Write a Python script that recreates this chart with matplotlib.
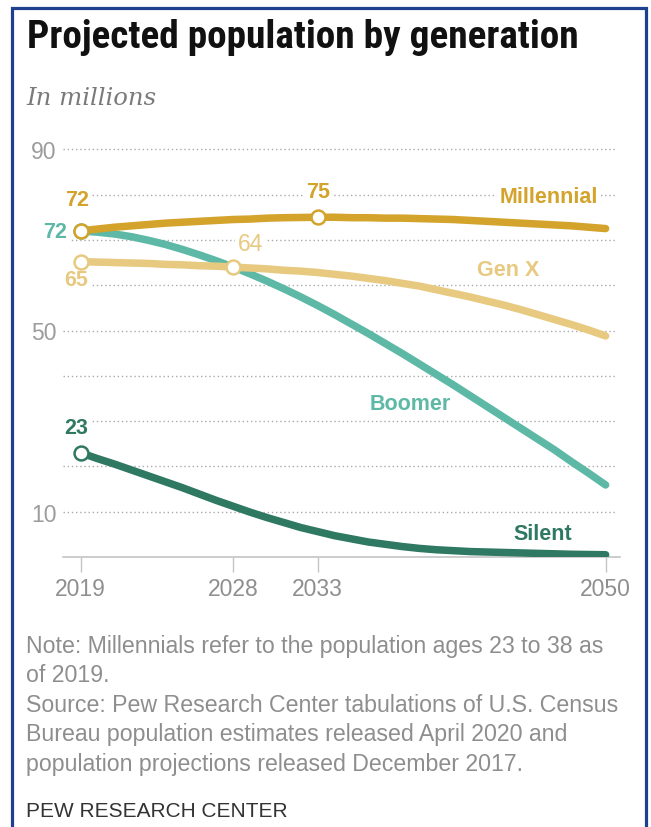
import matplotlib
matplotlib.use("Agg")
import matplotlib.pyplot as plt
from matplotlib import font_manager
from matplotlib.patches import Rectangle

# ---------------- data (millions) ----------------
years = list(range(2019, 2051))
millennial = [72.0, 72.4, 72.8, 73.1, 73.4, 73.7, 73.9, 74.1, 74.3, 74.5, 74.6,
              74.8, 74.9, 74.95, 75.0, 75.0, 74.9, 74.9, 74.8, 74.8, 74.7, 74.6,
              74.5, 74.3, 74.1, 73.9, 73.7, 73.5, 73.3, 73.1, 72.8, 72.5]
genx = [65.2, 65.1, 65.0, 64.9, 64.8, 64.6, 64.5, 64.3, 64.2, 64.0, 63.8,
        63.6, 63.3, 63.1, 62.8, 62.4, 62.0, 61.5, 61.0, 60.4, 59.8, 59.0,
        58.2, 57.4, 56.5, 55.6, 54.6, 53.5, 52.4, 51.3, 50.1, 48.8]
boomer = [72.0, 71.7, 71.3, 70.7, 69.9, 69.0, 67.9, 66.7, 65.4, 64.0, 62.5,
          60.9, 59.2, 57.4, 55.5, 53.5, 51.4, 49.3, 47.1, 44.9, 42.6, 40.3,
          38.0, 35.6, 33.2, 30.8, 28.4, 26.0, 23.6, 21.0, 18.5, 15.9]
silent = [23.0, 21.7, 20.5, 19.2, 17.9, 16.6, 15.3, 13.9, 12.5, 11.2, 9.9,
          8.7, 7.6, 6.5, 5.6, 4.7, 4.0, 3.3, 2.8, 2.3, 1.9, 1.6,
          1.4, 1.2, 1.1, 1.0, 0.9, 0.8, 0.7, 0.6, 0.55, 0.5]

xtick_years = [2019, 2028, 2033, 2050]
grid_values = [10, 20, 30, 40, 50, 60, 70, 80, 90]
ytick_labels = {10: "10", 50: "50", 90: "90"}

title = "Projected population by generation"
subtitle = "In millions"
notes = [
    "Note: Millennials refer to the population ages 23 to 38 as",
    "of 2019.",
    "Source: Pew Research Center tabulations of U.S. Census",
    "Bureau population estimates released April 2020 and",
    "population projections released December 2017.",
]
credit = "PEW RESEARCH CENTER"

C_MIL = "#D3A32B"
C_GENX = "#E7C980"
C_BOOM = "#5DB9A6"
C_SIL = "#2F7862"

# ---------------- fonts ----------------
avail = {f.name for f in font_manager.fontManager.ttflist}


def pick(cands):
    for c in cands:
        if c in avail:
            return c
    return "DejaVu Sans"


F_TITLE = pick(["Liberation Sans Narrow", "Roboto Condensed", "Roboto", "Liberation Sans"])
F_SANS = pick(["Liberation Sans", "Roboto", "DejaVu Sans"])
F_SERIF = pick(["DejaVu Serif", "Liberation Serif"])

W, H = 651, 828
fig = plt.figure(figsize=(W / 100, H / 100), dpi=100)
fig.patch.set_facecolor("white")

SCALE = 4.53  # px per million
ax = fig.add_axes([63 / W, 1 - 558 / H, (620 - 63) / W, 92 * SCALE / H])
ax.set_xlim(2017.95, 2050.85)
ax.set_ylim(0, 92)

for s in ["top", "right", "left"]:
    ax.spines[s].set_visible(False)
ax.spines["bottom"].set_color("#c4c4c4")
ax.spines["bottom"].set_linewidth(1.2)

for g in grid_values:
    ax.axhline(g, xmin=0, xmax=(617 - 63) / (620 - 63), color="#aaaaaa",
               lw=1.0, ls=(0, (1, 2)), zorder=0)

ax.set_xticks(xtick_years)
ax.set_xticklabels([str(y) for y in xtick_years], fontfamily=F_SANS,
                   fontsize=16.5, color="#8f8f8f")
ax.tick_params(axis="x", length=11, width=1.0, color="#c4c4c4", pad=3.5)
ax.set_yticks(grid_values)
ax.set_yticklabels([ytick_labels.get(g, "") for g in grid_values],
                   fontfamily=F_SANS, fontsize=16.5, color="#9c9c9c")
ax.tick_params(axis="y", length=0, pad=4.5)

LW = 5.4
ax.plot(years, silent, color=C_SIL, lw=LW, solid_capstyle="round", zorder=3)
ax.plot(years, boomer, color=C_BOOM, lw=LW, solid_capstyle="round", zorder=4)
ax.plot(years, genx, color=C_GENX, lw=LW, solid_capstyle="round", zorder=5)
ax.plot(years, millennial, color=C_MIL, lw=LW, solid_capstyle="round", zorder=6)


def mark(yr, series, c):
    i = years.index(yr)
    ax.plot([yr], [series[i]], "o", ms=10, mfc="white", mec=c, mew=1.8, zorder=10,
            clip_on=False)


mark(2019, silent, C_SIL)
mark(2019, genx, C_GENX)
mark(2028, genx, C_GENX)
mark(2019, boomer, C_BOOM)
mark(2019, millennial, C_MIL)
mark(2033, millennial, C_MIL)


def to_data(xp, yp):
    yr = 2019 + (xp - 80.7) / 16.93
    v = (558 - yp) / SCALE
    return yr, v


def label(xp, yp, s, c, weight="bold", fs=15.5):
    x, y = to_data(xp, yp)
    ax.text(x, y, s, color=c, fontsize=fs, fontweight=weight, fontfamily=F_SANS,
            ha="center", va="center", zorder=1.5, clip_on=False,
            bbox=dict(boxstyle="square,pad=0.12", fc="white", ec="none"))


label(77, 201, "72", C_MIL)
label(55, 233, "72", C_BOOM)
label(76, 281, "65", C_GENX)
label(250, 245, "64", C_GENX, weight="normal", fs=16.5)
label(318, 193, "75", C_MIL)
label(549, 198, "Millennial", C_MIL)
label(508, 271, "Gen X", C_GENX)
label(410, 405, "Boomer", C_BOOM)
label(76, 429, "23", C_SIL)
label(543, 535, "Silent", C_SIL)

# ---------------- texts ----------------
renderer = fig.canvas.get_renderer()


def fit(t, target):
    w = t.get_window_extent(renderer).width
    t.set_fontsize(t.get_fontsize() * target / w)


t_title = fig.text(26.7 / W, 1 - 48.5 / H, title, fontfamily=F_TITLE, fontweight="bold",
                   fontsize=20, color="#111111", ha="left", va="baseline")
fit(t_title, 551)

t_sub = fig.text(26.7 / W, 1 - 105 / H, subtitle, fontfamily=F_SERIF, style="italic",
                 fontsize=17, color="#7a7a7a", ha="left", va="baseline")
fit(t_sub, 130)

baselines = [653, 682.5, 712, 741.5, 771]
note_objs = []
for s, b in zip(notes, baselines):
    note_objs.append(fig.text(26.5 / W, 1 - b / H, s, fontfamily=F_SANS, fontsize=15,
                              color="#8e8e8e", ha="left", va="baseline"))
w0 = note_objs[0].get_window_extent(renderer).width
fs_note = 15 * 580 / w0
for t in note_objs:
    t.set_fontsize(fs_note)

t_cred = fig.text(26.5 / W, 1 - 817 / H, credit, fontfamily=F_SANS, fontsize=15,
                  color="#333333", ha="left", va="baseline")
fit(t_cred, 262)

# frame
fig.add_artist(Rectangle((11.5 / W, -0.02), (646 - 11.5) / W, 1.02 - 8.5 / H,
                         transform=fig.transFigure, fill=False, ec="#1f3f8f",
                         lw=2.3, zorder=20))

fig.savefig("out.png", dpi=100, facecolor="white")
